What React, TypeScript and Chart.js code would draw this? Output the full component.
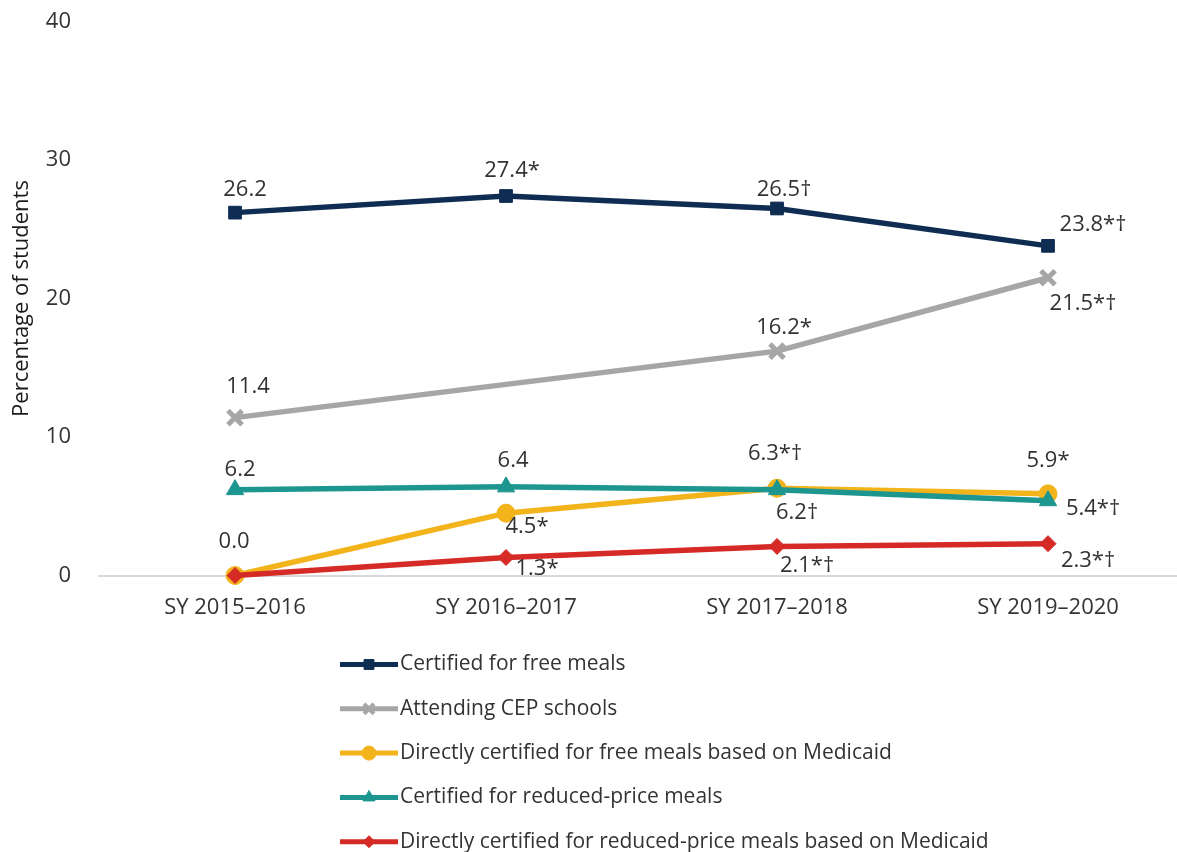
import { useEffect, useRef } from 'react';
import { Chart, registerables } from 'chart.js';
import { drawPoint } from 'chart.js/helpers';

Chart.register(...registerables);

// School years on the horizontal axis
const SCHOOL_YEARS = ['SY 2015–2016', 'SY 2016–2017', 'SY 2017–2018', 'SY 2019–2020'];
const Y_MIN = 0;
const Y_MAX = 40;
const Y_STEP = 10;

// Percentage of students, one value per school year (null = not reported)
const FREE_MEALS = [26.2, 27.4, 26.5, 23.8];
const CEP_SCHOOLS = [11.4, null, 16.2, 21.5];
const MEDICAID_FREE = [0.0, 4.5, 6.3, 5.9];
const REDUCED_PRICE = [6.2, 6.4, 6.2, 5.4];
const MEDICAID_REDUCED = [0.0, 1.3, 2.1, 2.3];

// Significance marks appended to each value label (null = no label)
const FREE_MEALS_NOTES = ['', '*', '†', '*†'];
const CEP_SCHOOLS_NOTES = ['', null, '*', '*†'];
const MEDICAID_FREE_NOTES = ['', '*', '*†', '*'];
const REDUCED_PRICE_NOTES = ['', '', '†', '*†'];
const MEDICAID_REDUCED_NOTES = [null, '*', '*†', '*†'];

// Where each value label sits relative to its point: [dx, dy]
const FREE_MEALS_LABEL_POS = [[10, -23], [6, -25], [7, -19], [45, -21]];
const CEP_SCHOOLS_LABEL_POS = [[13, -31], [0, 0], [7, -23], [35, 26]];
const MEDICAID_FREE_LABEL_POS = [[-1, -34], [21, 14], [-2, -35], [0, -33]];
const REDUCED_PRICE_LABEL_POS = [[5, -20], [7, -26], [20, 23], [45, 8]];
const MEDICAID_REDUCED_LABEL_POS = [[0, 0], [31, 11], [30, 19], [40, 17]];

const FONT = "'Open Sans', 'DejaVu Sans', sans-serif";
const TEXT = '#333333';

type Series = {
  name: string;
  values: (number | null)[];
  notes: (string | null)[];
  labelPos: number[][];
  color: string;
  pointStyle: string;
  radius: number;
  legendRadius: number;
  pointBorder: number;
  order: number;
};

const SERIES: Series[] = [
  { name: 'Certified for free meals', values: FREE_MEALS, notes: FREE_MEALS_NOTES, labelPos: FREE_MEALS_LABEL_POS, color: '#0f2d52', pointStyle: 'rect', radius: 9, legendRadius: 7, pointBorder: 1, order: 5 },
  { name: 'Attending CEP schools', values: CEP_SCHOOLS, notes: CEP_SCHOOLS_NOTES, labelPos: CEP_SCHOOLS_LABEL_POS, color: '#a6a6a6', pointStyle: 'crossRot', radius: 10, legendRadius: 7, pointBorder: 5, order: 4 },
  { name: 'Directly certified for free meals based on Medicaid', values: MEDICAID_FREE, notes: MEDICAID_FREE_NOTES, labelPos: MEDICAID_FREE_LABEL_POS, color: '#f2b31b', pointStyle: 'circle', radius: 9, legendRadius: 7, pointBorder: 1, order: 3 },
  { name: 'Certified for reduced-price meals', values: REDUCED_PRICE, notes: REDUCED_PRICE_NOTES, labelPos: REDUCED_PRICE_LABEL_POS, color: '#1c968f', pointStyle: 'triangle', radius: 10, legendRadius: 7, pointBorder: 1, order: 2 },
  { name: 'Directly certified for reduced-price meals based on Medicaid', values: MEDICAID_REDUCED, notes: MEDICAID_REDUCED_NOTES, labelPos: MEDICAID_REDUCED_LABEL_POS, color: '#d62a27', pointStyle: 'rectRot', radius: 8, legendRadius: 6, pointBorder: 1, order: 1 },
];

// Value labels next to each point
const valueLabels = {
  id: 'valueLabels',
  afterDatasetsDraw(chart: any) {
    const ctx = chart.ctx;
    ctx.save();
    ctx.font = `22px ${FONT}`;
    ctx.fillStyle = TEXT;
    ctx.textAlign = 'center';
    ctx.textBaseline = 'middle';
    SERIES.forEach((s, di) => {
      const meta = chart.getDatasetMeta(di);
      s.values.forEach((v, i) => {
        const note = s.notes[i];
        if (v == null || note == null) return;
        const pt = meta.data[i];
        const [dx, dy] = s.labelPos[i];
        ctx.fillText(v.toFixed(1) + note, pt.x + dx, pt.y + dy);
      });
    });
    ctx.restore();
  },
};

// Vertical legend below the axis
const stackedLegend = {
  id: 'stackedLegend',
  afterDraw(chart: any) {
    const ctx = chart.ctx;
    const lineX0 = 340;
    const lineX1 = 398;
    const top = 664.5;
    const gap = 44.3;
    ctx.save();
    SERIES.forEach((s, i) => {
      const y = top + i * gap;
      ctx.strokeStyle = s.color;
      ctx.lineWidth = 5;
      ctx.lineCap = 'butt';
      ctx.beginPath();
      ctx.moveTo(lineX0, y);
      ctx.lineTo(lineX1, y);
      ctx.stroke();
      ctx.fillStyle = s.color;
      ctx.strokeStyle = s.color;
      ctx.lineWidth = s.pointBorder > 1 ? 4 : 1;
      drawPoint(ctx, { pointStyle: s.pointStyle as any, radius: s.legendRadius, rotation: 0, borderWidth: ctx.lineWidth }, (lineX0 + lineX1) / 2, y);
      ctx.fillStyle = TEXT;
      ctx.font = `21px ${FONT}`;
      ctx.textAlign = 'left';
      ctx.textBaseline = 'middle';
      ctx.fillText(s.name, lineX1 + 2, y);
    });
    ctx.restore();
  },
};

export default function App() {
  const canvasRef = useRef<HTMLCanvasElement>(null);

  useEffect(() => {
    const canvas = canvasRef.current;
    if (!canvas) return;

    const datasets = SERIES.map((s) => ({
      label: s.name,
      data: s.values.map((v, i) => ({ x: i, y: v })),
      borderColor: s.color,
      backgroundColor: s.color,
      borderWidth: 5.5,
      pointStyle: s.pointStyle,
      pointRadius: s.radius,
      pointHoverRadius: s.radius,
      pointBackgroundColor: s.color,
      pointBorderColor: s.color,
      pointBorderWidth: s.pointBorder,
      spanGaps: true,
      tension: 0,
      clip: false,
      order: s.order,
    }));

    const chart = new Chart(canvas, {
      type: 'line',
      data: { datasets },
      options: {
        animation: false,
        responsive: false,
        events: [],
        layout: { autoPadding: false, padding: { top: 21.5, bottom: 216.5, left: 0, right: 0 } },
        plugins: { legend: { display: false }, tooltip: { enabled: false } },
        scales: {
          x: {
            type: 'linear',
            min: -0.502,
            max: 3.476,
            grid: { display: false },
            border: { display: true, color: '#d9d9d9', width: 2 },
            afterBuildTicks: (scale: any) => {
              scale.ticks = SCHOOL_YEARS.map((_, i) => ({ value: i }));
            },
            afterFit: (scale: any) => {
              scale.height = 60;
              scale.paddingLeft = 0;
              scale.paddingRight = 0;
            },
            ticks: {
              autoSkip: false,
              maxRotation: 0,
              padding: 11,
              color: TEXT,
              font: { family: FONT, size: 22 },
              callback: (v: any) => SCHOOL_YEARS[v] ?? '',
            },
          },
          y: {
            min: Y_MIN,
            max: Y_MAX,
            grid: { display: false },
            border: { display: false },
            afterFit: (scale: any) => {
              scale.width = 99;
              scale.paddingTop = 0;
              scale.paddingBottom = 0;
            },
            ticks: {
              stepSize: Y_STEP,
              padding: 20,
              color: TEXT,
              font: { family: FONT, size: 22 },
            },
            title: {
              display: true,
              text: 'Percentage of students',
              color: '#1a1a1a',
              font: { family: FONT, size: 22 },
              padding: { top: 9, bottom: 0 },
            },
          },
        },
      },
      plugins: [valueLabels, stackedLegend],
    } as any);

    return () => chart.destroy();
  }, []);

  return (
    <div style={{ position: 'fixed', left: 0, top: 0, width: 1177, height: 852, background: '#ffffff' }}>
      <canvas ref={canvasRef} width={1177} height={852} style={{ display: 'block' }} />
    </div>
  );
}
